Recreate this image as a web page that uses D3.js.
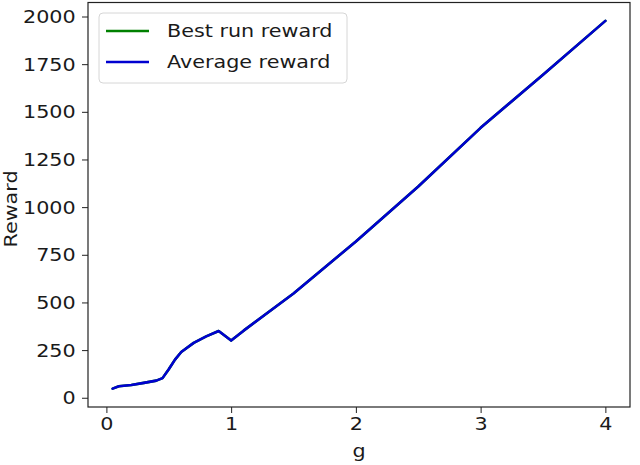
<!DOCTYPE html>
<html>
<head>
<meta charset="utf-8">
<script src="https://cdn.jsdelivr.net/npm/d3@7"></script>
<style>
  body { margin: 0; background: #fff; }
  svg { font-family: "DejaVu Sans", sans-serif; }
</style>
</head>
<body>
<svg id="chart"></svg>
<script>
const gValues = [0.05, 0.1, 0.2, 0.3, 0.4, 0.45, 0.5, 0.55, 0.6, 0.7, 0.8, 0.9, 1.0, 1.1, 1.5, 2.0, 2.5, 3.0, 3.5, 4.0];
const bestReward = [48, 60, 67, 78, 90, 103, 150, 200, 240, 288, 322, 350, 300, 352, 547, 820, 1108, 1416, 1695, 1977];
const averageReward = [48, 60, 67, 78, 90, 103, 150, 200, 240, 288, 322, 350, 300, 352, 547, 820, 1108, 1416, 1695, 1977];
const xTicks = [0, 1, 2, 3, 4];
const yTicks = [0, 250, 500, 750, 1000, 1250, 1500, 1750, 2000];
const seriesNames = ["Best run reward", "Average reward"];
const seriesColors = ["#008000", "#0000d0"];

const width = 640, height = 465;
const margin = { top: 2.5, right: 10, bottom: 58, left: 88 };
const innerW = width - margin.left - margin.right;
const innerH = height - margin.top - margin.bottom;
const fontSize = 18.5;
const stretch = 1.12; // text in the picture is a little wider than tall

const svg = d3.select("#chart").attr("width", width).attr("height", height);
const container = svg.append("g")
  .attr("transform", `translate(${margin.left},${margin.top})`);

const xPad = (d3.max(gValues) - d3.min(gValues)) * 0.05;
const allY = bestReward.concat(averageReward);
const yPad = (d3.max(allY) - d3.min(allY)) * 0.05;

const xScale = d3.scaleLinear()
  .domain([d3.min(gValues) - xPad, d3.max(gValues) + xPad])
  .range([0, innerW]);
const yScale = d3.scaleLinear()
  .domain([d3.min(allY) - yPad, d3.max(allY) + yPad])
  .range([innerH, 0]);

const xAxis = container.append("g")
  .attr("transform", `translate(0,${innerH})`)
  .call(d3.axisBottom(xScale).tickValues(xTicks).tickFormat(d3.format("d")).tickSize(6).tickPadding(4));
const yAxis = container.append("g")
  .call(d3.axisLeft(yScale).tickValues(yTicks).tickFormat(d3.format("d")).tickSize(6).tickPadding(5));

[xAxis, yAxis].forEach(a => {
  a.select(".domain").remove();
  a.selectAll("line").attr("stroke", "#222");
  a.selectAll("text").attr("font-size", fontSize).attr("fill", "#1a1a1a")
    .attr("font-family", "DejaVu Sans, sans-serif")
    .attr("transform", `scale(${stretch},1)`);
});

container.append("rect")
  .attr("width", innerW).attr("height", innerH)
  .attr("fill", "none").attr("stroke", "#222").attr("stroke-width", 1.2);

const line = d3.line()
  .x((d, i) => xScale(gValues[i]))
  .y(d => yScale(d));

[bestReward, averageReward].forEach((vals, k) => {
  container.append("path")
    .datum(vals)
    .attr("fill", "none")
    .attr("stroke", seriesColors[k])
    .attr("stroke-width", 2.6)
    .attr("stroke-linejoin", "round")
    .attr("stroke-linecap", "round")
    .attr("d", line);
});

// axis labels
svg.append("text")
  .attr("transform", `translate(${margin.left + innerW / 2},457) scale(${stretch},1)`)
  .attr("text-anchor", "middle").attr("font-size", fontSize).attr("fill", "#1a1a1a")
  .text("g");
svg.append("text")
  .attr("transform", `translate(17,209) rotate(-90) scale(${stretch},1)`)
  .attr("text-anchor", "middle").attr("font-size", fontSize).attr("fill", "#1a1a1a")
  .text("Reward");

// legend
const legend = svg.append("g").attr("transform", "translate(99,13)");
legend.append("rect")
  .attr("width", 248).attr("height", 70).attr("rx", 4)
  .attr("fill", "#fff").attr("fill-opacity", 0.8)
  .attr("stroke", "#d6d6d6");
const items = legend.selectAll(".legend-item")
  .data(seriesNames)
  .join("g")
  .attr("class", "legend-item")
  .attr("transform", (d, i) => `translate(0,${18 + i * 31})`);
items.append("line")
  .attr("x1", 7).attr("x2", 50)
  .attr("stroke", (d, i) => seriesColors[i]).attr("stroke-width", 2.6);
items.append("text")
  .attr("transform", `translate(68,0) scale(${stretch},1)`)
  .attr("dy", "0.35em")
  .attr("font-size", fontSize).attr("fill", "#1a1a1a")
  .text(d => d);
</script>
</body>
</html>
